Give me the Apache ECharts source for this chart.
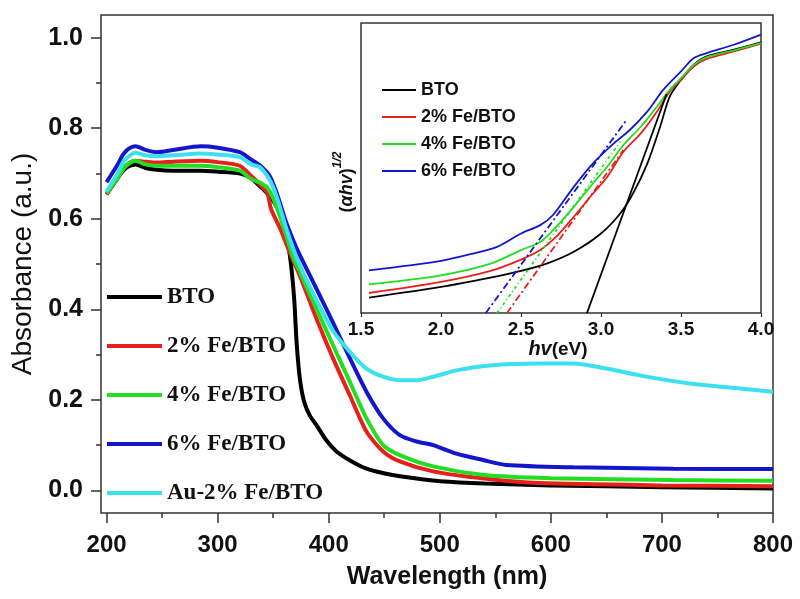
<!DOCTYPE html>
<html>
<head>
<meta charset="utf-8">
<script src="https://cdn.jsdelivr.net/npm/echarts@6.0.0/dist/echarts.min.js"></script>
<style>html,body{margin:0;padding:0;background:#fff}#c{width:800px;height:599px}</style>
</head>
<body>
<div id="c"></div>
<script>
// ---- Main chart data (wavelength nm, absorbance a.u.) ----
const btoWl  = [200,205,210,215,220,226,235,245,260,285,300,320,330,338,345,350,356,362,366,369,371,373,375,378,383,389,398,407,420,434,455,479,500,540,600,700,800];
const btoAbs = [0.654,0.672,0.690,0.706,0.716,0.720,0.712,0.708,0.706,0.706,0.704,0.700,0.690,0.672,0.655,0.640,0.612,0.565,0.500,0.420,0.330,0.270,0.230,0.195,0.165,0.144,0.110,0.086,0.065,0.048,0.035,0.026,0.020,0.015,0.011,0.007,0.004];

const fe2Wl  = [200,205,210,215,220,226,235,245,260,285,300,320,330,338,345,348,356,365,374,389,404,419,434,449,464,494,540,590,700,800];
const fe2Abs = [0.654,0.672,0.690,0.710,0.722,0.728,0.726,0.724,0.726,0.728,0.725,0.717,0.695,0.676,0.655,0.622,0.580,0.525,0.474,0.379,0.291,0.210,0.130,0.086,0.064,0.042,0.026,0.016,0.011,0.009];

const fe4Wl  = [200,205,210,215,220,226,235,245,260,285,300,320,330,338,345,350,359,368,375,380,389,404,419,434,449,464,494,540,600,710,800];
const fe4Abs = [0.656,0.673,0.690,0.710,0.722,0.728,0.720,0.717,0.717,0.717,0.714,0.706,0.688,0.680,0.668,0.645,0.584,0.515,0.478,0.450,0.401,0.320,0.240,0.159,0.100,0.078,0.053,0.034,0.027,0.023,0.021];

const fe6Wl  = [200,205,210,215,220,226,235,245,260,285,300,320,330,338,347,353,362,371,380,389,404,419,434,449,464,479,494,515,539,560,620,710,800];
const fe6Abs = [0.681,0.700,0.720,0.742,0.755,0.760,0.752,0.747,0.752,0.760,0.757,0.747,0.731,0.718,0.694,0.658,0.590,0.535,0.490,0.445,0.370,0.292,0.218,0.159,0.122,0.108,0.100,0.081,0.067,0.056,0.051,0.048,0.047];

const auWl   = [200,205,210,215,220,226,235,245,260,285,300,320,330,338,347,353,362,371,380,389,404,419,434,449,464,479,494,515,545,590,620,650,680,725,770,800];
const auAbs  = [0.660,0.680,0.700,0.725,0.738,0.746,0.740,0.738,0.740,0.744,0.742,0.736,0.720,0.714,0.685,0.650,0.577,0.515,0.465,0.420,0.352,0.306,0.269,0.251,0.243,0.243,0.251,0.265,0.276,0.280,0.280,0.269,0.254,0.236,0.225,0.218];

// ---- Inset data (hv eV, (alpha hv)^1/2 arbitrary units) ----
const inBtoHv  = [1.55,2.0,2.31,2.5,2.66,2.83,3.0,3.12,3.20,3.29,3.37,3.43,3.5,3.58,3.66,3.83,4.0];
const inBtoY   = [0.053,0.090,0.122,0.145,0.170,0.211,0.274,0.343,0.412,0.516,0.643,0.747,0.804,0.856,0.885,0.908,0.933];
const inFe2Hv  = [1.55,2.0,2.31,2.5,2.62,2.72,2.83,2.95,3.04,3.14,3.25,3.35,3.43,3.5,3.58,3.66,3.83,4.0];
const inFe2Y   = [0.069,0.107,0.145,0.184,0.217,0.263,0.332,0.412,0.470,0.556,0.620,0.695,0.764,0.804,0.850,0.876,0.902,0.929];
const inFe4Hv  = [1.55,2.0,2.31,2.5,2.62,2.72,2.83,2.95,3.04,3.14,3.25,3.35,3.43,3.5,3.58,3.66,3.83,4.0];
const inFe4Y   = [0.099,0.130,0.170,0.217,0.245,0.297,0.366,0.447,0.505,0.579,0.643,0.712,0.770,0.810,0.856,0.882,0.906,0.931];
const inFe6Hv  = [1.55,2.0,2.2,2.35,2.5,2.62,2.70,2.83,2.95,3.08,3.18,3.29,3.39,3.5,3.58,3.66,3.83,4.0];
const inFe6Y   = [0.147,0.180,0.205,0.228,0.274,0.303,0.338,0.435,0.516,0.585,0.631,0.695,0.770,0.833,0.879,0.896,0.925,0.960];
// tangent (band-gap extrapolation) lines: [hv start, hv end], [y start, y end]
const tanBtoHv = [2.9125,3.41]; const tanBtoY = [0.0,0.755];
const tanFe2Hv = [2.4125,3.14]; const tanFe2Y = [0.0,0.562];
const tanFe4Hv = [2.35,3.12];   const tanFe4Y = [0.0,0.591];
const tanFe6Hv = [2.28,3.16];   const tanFe6Y = [0.0,0.666];

const mainNames = ['BTO','2% Fe/BTO','4% Fe/BTO','6% Fe/BTO','Au-2% Fe/BTO'];
const insetNames = ['BTO','2% Fe/BTO','4% Fe/BTO','6% Fe/BTO'];
const colors = ['#000000','#e8201c','#22dd22','#1515cc','#3ce0ee'];
const xMajor = [200,300,400,500,600,700,800];
const xMinor = [250,350,450,550,650,750];
const yMajor = [0,0.2,0.4,0.6,0.8,1.0];
const yMinor = [0.1,0.3,0.5,0.7,0.9];

const zip = (a,b) => a.map((v,i)=>[v,b[i]]);
const mainData = [zip(btoWl,btoAbs),zip(fe2Wl,fe2Abs),zip(fe4Wl,fe4Abs),zip(fe6Wl,fe6Abs),zip(auWl,auAbs)];
const insetData = [zip(inBtoHv,inBtoY),zip(inFe2Hv,inFe2Y),zip(inFe4Hv,inFe4Y),zip(inFe6Hv,inFe6Y)];
const tanData = [zip(tanBtoHv,tanBtoY),zip(tanFe2Hv,tanFe2Y),zip(tanFe4Hv,tanFe4Y),zip(tanFe6Hv,tanFe6Y)];
const tanTypes = ['solid',[7,3,2,3],[3,3,1,3],[7,3,2,3]];

const SANS = "'Liberation Sans', Arial, sans-serif";
const SERIF = "'Liberation Serif', 'Times New Roman', serif";
const INK = '#111';

const series = [];
mainData.forEach((d,i)=>{
  series.push({name: mainNames[i], type:'line', xAxisIndex:0, yAxisIndex:0, data:d,
    showSymbol:false, symbol:'none', smooth:0.25, silent:true,
    lineStyle:{color:colors[i], width:4}, itemStyle:{color:colors[i]}});
});
insetData.forEach((d,i)=>{
  series.push({name: insetNames[i], type:'line', xAxisIndex:2, yAxisIndex:2, data:d,
    showSymbol:false, symbol:'none', smooth:0.3, silent:true,
    lineStyle:{color:colors[i], width:1.8}, itemStyle:{color:colors[i]}});
});
tanData.forEach((d,i)=>{
  series.push({name: 'tangent '+insetNames[i], type:'line', xAxisIndex:2, yAxisIndex:2, data:d,
    showSymbol:false, symbol:'none', silent:true,
    lineStyle:{color:colors[i], width:1.8, type:tanTypes[i]}, itemStyle:{color:colors[i]}});
});

const chart = echarts.init(document.getElementById('c'), null, {renderer:'canvas'});
chart.setOption({
  animation:false,
  backgroundColor:'#fff',
  grid:[
    {left:101, right:27, top:15, bottom:86, show:true, borderColor:'#333', borderWidth:1.5, backgroundColor:'transparent'},
    {left:361, right:39, top:23, bottom:286, show:true, borderColor:'#333', borderWidth:1.5, backgroundColor:'#fff'}
  ],
  xAxis:[
    {type:'value', gridIndex:0, min:195, max:800, position:'bottom',
     axisLine:{show:false, onZero:false}, splitLine:{show:false},
     axisTick:{show:true, inside:false, length:10, lineStyle:{color:'#333', width:1.5}, customValues:xMajor},
     axisLabel:{show:true, customValues:xMajor, margin:20, color:INK, fontFamily:SANS, fontWeight:'bold', fontSize:24},
     name:'Wavelength (nm)', nameLocation:'middle', nameGap:52,
     nameTextStyle:{color:INK, fontFamily:SANS, fontWeight:'bold', fontSize:25, padding:[0,0,0,20]}},
    {type:'value', gridIndex:0, min:195, max:800, position:'bottom',
     axisLine:{show:false, onZero:false}, splitLine:{show:false},
     axisTick:{show:true, inside:false, length:5, lineStyle:{color:'#333', width:1.5}, customValues:xMinor},
     axisLabel:{show:false}},
    {type:'value', gridIndex:1, min:1.5, max:4.0, interval:0.5, position:'bottom',
     axisLine:{show:false, onZero:false}, splitLine:{show:false},
     axisTick:{show:true, inside:false, length:4, lineStyle:{color:'#333', width:1.2}},
     axisLabel:{show:true, margin:7, color:INK, fontFamily:SANS, fontWeight:'bold', fontSize:19,
       formatter:v=>v.toFixed(1)},
     name:'{i|hv}{n|(eV)}', nameLocation:'middle', nameGap:19,
     nameTextStyle:{color:INK, padding:[0,6,0,0], rich:{
       i:{fontFamily:SANS, fontWeight:'bold', fontStyle:'italic', fontSize:20, color:INK},
       n:{fontFamily:SANS, fontWeight:'bold', fontSize:19, color:INK}}}}
  ],
  yAxis:[
    {type:'value', gridIndex:0, min:-0.05, max:1.05, position:'left',
     axisLine:{show:false, onZero:false}, splitLine:{show:false},
     axisTick:{show:true, inside:false, length:10, lineStyle:{color:'#333', width:1.5}, customValues:yMajor},
     axisLabel:{show:true, customValues:yMajor, margin:18, color:INK, fontFamily:SANS, fontWeight:'bold', fontSize:25,
       formatter:v=>v.toFixed(1)},
     name:'Absorbance (a.u.)', nameLocation:'middle', nameGap:62, nameRotate:90,
     nameTextStyle:{color:INK, fontFamily:SANS, fontWeight:'normal', fontSize:28}},
    {type:'value', gridIndex:0, min:-0.05, max:1.05, position:'left',
     axisLine:{show:false, onZero:false}, splitLine:{show:false},
     axisTick:{show:true, inside:false, length:5, lineStyle:{color:'#333', width:1.5}, customValues:yMinor},
     axisLabel:{show:false}},
    {type:'value', gridIndex:1, min:0, max:1, position:'left',
     axisLine:{show:false, onZero:false}, splitLine:{show:false}, axisTick:{show:false}, axisLabel:{show:false}}
  ],
  legend:[
    {data:mainNames, orient:'vertical', left:107, top:285, padding:0, itemWidth:55, itemHeight:4, itemGap:25,
     icon:'rect', selectedMode:false,
     textStyle:{color:INK, fontFamily:SERIF, fontWeight:'bold', fontSize:23, lineHeight:24}},
    {data:insetNames, orient:'vertical', left:382, top:80, padding:0, itemWidth:34, itemHeight:2, itemGap:7,
     icon:'rect', selectedMode:false,
     textStyle:{color:INK, fontFamily:SANS, fontWeight:'bold', fontSize:18, lineHeight:20}}
  ],
  graphic:[
    {type:'text', x:344, y:182, rotation:Math.PI/2, silent:true,
     style:{text:'{p|(}{a|α}{h|hv}{p|)}{s|1/2}', align:'center', verticalAlign:'middle', fill:INK,
       rich:{
         p:{fontFamily:SANS, fontWeight:'bold', fontSize:18, lineHeight:24, verticalAlign:'bottom', fill:INK},
         a:{fontFamily:SANS, fontWeight:'bold', fontStyle:'italic', fontSize:18, lineHeight:24, verticalAlign:'bottom', fill:INK},
         h:{fontFamily:SANS, fontWeight:'bold', fontStyle:'italic', fontSize:18, lineHeight:24, verticalAlign:'bottom', fill:INK},
         s:{fontFamily:SANS, fontWeight:'bold', fontStyle:'italic', fontSize:12, lineHeight:24, verticalAlign:'top', fill:INK}
       }}}
  ],
  series:series
});
</script>
</body>
</html>
